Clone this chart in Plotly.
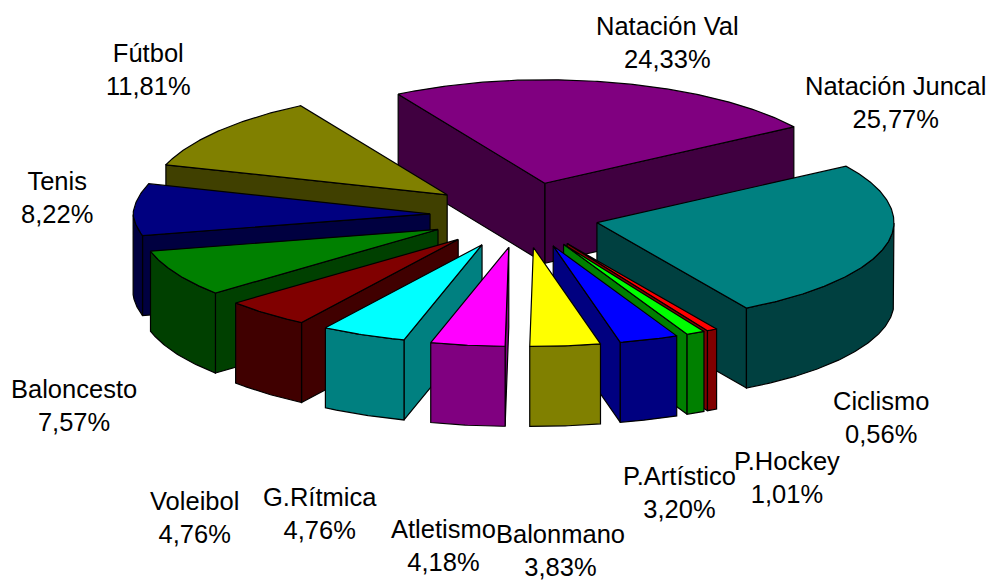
import math
import plotly.graph_objects as go

categories = ["Natación Val", "Fútbol", "Tenis", "Baloncesto", "Voleibol",
              "G.Rítmica", "Atletismo", "Balonmano", "P.Artístico", "P.Hockey", "Ciclismo", "Natación Juncal"]
values = [24.33, 11.81, 8.22, 7.57, 4.76, 4.76, 4.18, 3.83, 3.20, 1.01, 0.56, 25.77]
colors = ["#800080", "#808000", "#000080", "#008000", "#800000",
          "#00FFFF", "#FF00FF", "#FFFF00", "#0000FF", "#00FF00", "#FF0000", "#008080"]
side_colors = ["#400040", "#404000", "#000040", "#004000", "#400000",
               "#008080", "#800080", "#808000", "#000080", "#008000", "#800000", "#004040"]
label_xy = {
    "Natación Juncal": (895, 102), "Natación Val": (667, 42), "Fútbol": (148, 69),
    "Tenis": (57, 197), "Baloncesto": (74, 405), "Voleibol": (194, 517),
    "G.Rítmica": (320, 513), "Atletismo": (443, 545), "Balonmano": (560, 550),
    "P.Artístico": (679, 492), "P.Hockey": (787, 477), "Ciclismo": (881, 417),
}

CX, CY, A, B_BACK, B_FRONT, EX, EY, DEPTH = 514, 215, 297, 103.5, 99, 84, 32.6, 80
START = 33.0


def top_point(apex, t):
    r = math.radians(t)
    c, s = math.cos(r), math.sin(r)
    ax = A * (1 - 0.035 * abs(s)) if c < 0 else A
    b = B_BACK if s > 0 else B_FRONT
    return apex[0] + ax * c, apex[1] - b * s


def apex_of(mid):
    r = math.radians(mid)
    c, s = math.cos(r), math.sin(r)
    return (CX + EX * c + s * s * (9 + 14 * c), CY - EY * s)


def poly(pts, fill):
    xs = [p[0] for p in pts] + [pts[0][0]]
    ys = [p[1] for p in pts] + [pts[0][1]]
    return go.Scatter(x=xs, y=ys, mode="lines", fill="toself", fillcolor=fill,
                      line=dict(color="#000000", width=1.2), hoverinfo="skip", showlegend=False)


def down(p):
    return (p[0], p[1] + DEPTH)


slices = []
angle = START
for name, value, col, side in zip(categories, values, colors, side_colors):
    sweep = value * 3.6
    slices.append(dict(name=name, t0=angle, t1=angle + sweep, col=col, side=side))
    angle += sweep

traces = []
for s in sorted(slices, key=lambda d: -math.sin(math.radians((d["t0"] + d["t1"]) / 2))):
    mid = (s["t0"] + s["t1"]) / 2
    apex = apex_of(mid)
    n = max(int(s["t1"] - s["t0"]) * 2, 4)
    ts = [s["t0"] + (s["t1"] - s["t0"]) * i / n for i in range(n + 1)]
    rim = [top_point(apex, t) for t in ts]

    c0, c1 = math.cos(math.radians(s["t0"])), math.cos(math.radians(s["t1"]))
    faces = []
    if c0 > 0:
        p = rim[0]
        faces.append([apex, p, down(p), down(apex)])
    if c1 < 0:
        p = rim[-1]
        faces.append([apex, p, down(p), down(apex)])
    for f in faces:
        traces.append(poly(f, s["side"]))

    vis = [p for t, p in zip(ts, rim) if math.sin(math.radians(t)) < 0.0]
    if len(vis) >= 2:
        traces.append(poly(vis + [down(p) for p in reversed(vis)], s["side"]))
    traces.append(poly([apex] + rim, s["col"]))

fig = go.Figure(traces)
for name, value in zip(categories, values):
    x, y = label_xy[name]
    pct = f"{value:.2f}%".replace(".", ",")
    fig.add_annotation(x=x, y=y, xref="x", yref="y", showarrow=False, align="center",
                       text=f"{name}<br>{pct}",
                       font=dict(family="Liberation Sans, Arial, sans-serif", size=25.5, color="#000000"))
fig.update_layout(width=991, height=580, margin=dict(l=0, r=0, t=0, b=0),
                  paper_bgcolor="#FFFFFF", plot_bgcolor="#FFFFFF", showlegend=False,
                  xaxis=dict(range=[0, 991], visible=False, fixedrange=True),
                  yaxis=dict(range=[580, 0], visible=False, fixedrange=True))
fig.write_html("out.html", post_script="document.body.style.margin='0';document.body.style.overflow='hidden';",
               config={"displayModeBar": False})
